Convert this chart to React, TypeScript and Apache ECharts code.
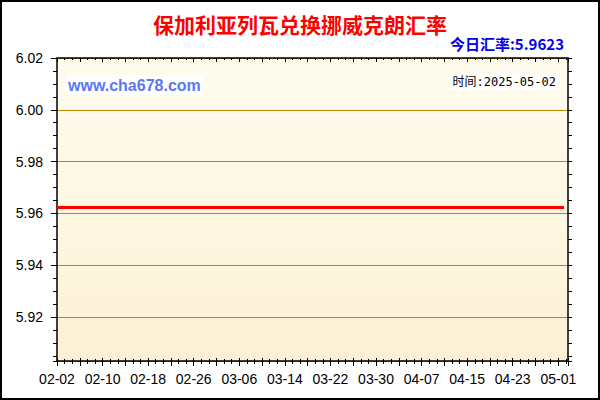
import { useRef, useEffect } from 'react'
import * as echarts from 'echarts'

// days counted from 2025-02-02
const X_LABELS = ['02-02', '02-10', '02-18', '02-26', '03-06', '03-14', '03-22', '03-30', '04-07', '04-15', '04-23', '05-01']
const RATE_DAYS = [0, 89]
const RATES = [5.9623, 5.9623]

const TITLE = '保加利亚列瓦兑换挪威克朗汇率'
const TODAY_RATE = '今日汇率:5.9623'
const DATE_TEXT = '时间:2025-05-02'
const SITE = 'www.cha678.com'

const Y_MIN = 5.903
const Y_MAX = 6.02
const X_MAX = 89.7

const CJK = '"Noto Sans CJK SC", sans-serif'
const LATIN = '"Liberation Sans", Arial, sans-serif'

function buildOption(): echarts.EChartsOption {
  const tickLine = { color: '#000', width: 1 }
  const noLabel = { show: false }
  const baseY = { type: 'value' as const, min: Y_MIN, max: Y_MAX, splitLine: { show: false } }
  const baseX = { type: 'value' as const, min: 0, max: X_MAX, interval: 4, splitLine: { show: false } }

  return {
    backgroundColor: '#fff',
    animation: false,
    grid: {
      left: 57,
      top: 58,
      right: 32,
      bottom: 39,
      show: true,
      borderWidth: 0,
      backgroundColor: new echarts.graphic.LinearGradient(0, 0, 0, 1, [
        { offset: 0, color: '#FEFCEF' },
        { offset: 1, color: '#FDF1D5' },
      ]),
    },
    xAxis: [
      {
        ...baseX,
        position: 'bottom',
        axisLine: { show: true, onZero: false, lineStyle: { color: '#000', width: 1.5 } },
        axisTick: { show: true, inside: false, length: 5, lineStyle: tickLine },
        minorTick: { show: true, splitNumber: 3, length: 3, lineStyle: tickLine },
        axisLabel: {
          show: true,
          margin: 11,
          fontSize: 14,
          fontFamily: LATIN,
          color: '#000',
          showMaxLabel: false,
          formatter: (v: number) => (v % 8 === 0 ? X_LABELS[v / 8] ?? '' : ''),
        },
      },
      {
        ...baseX,
        position: 'bottom',
        axisLine: { show: false, onZero: false },
        axisTick: { show: true, inside: true, length: 3, lineStyle: tickLine },
        minorTick: { show: true, splitNumber: 3, length: 2, lineStyle: tickLine },
        axisLabel: noLabel,
      },
      {
        ...baseX,
        position: 'top',
        axisLine: { show: true, onZero: false, lineStyle: { color: '#000', width: 1.5 } },
        axisTick: { show: true, inside: true, length: 4, lineStyle: tickLine },
        minorTick: { show: true, splitNumber: 3, length: 2, lineStyle: tickLine },
        axisLabel: noLabel,
      },
    ],
    yAxis: [
      {
        ...baseY,
        position: 'left',
        splitNumber: 5,
        axisLine: { show: true, onZero: false, lineStyle: { color: '#000', width: 1.5 } },
        axisTick: { show: true, length: 6, lineStyle: tickLine },
        splitLine: { show: true, lineStyle: { color: '#B8860B', width: 1 } },
        axisLabel: {
          margin: 14,
          fontSize: 14,
          fontFamily: LATIN,
          color: '#000',
          showMinLabel: false,
          formatter: (v: number) => (Math.abs(v * 50 - Math.round(v * 50)) < 1e-6 ? v.toFixed(2) : ''),
        },
      },
      {
        ...baseY,
        position: 'left',
        splitNumber: 24,
        axisLine: { show: false, onZero: false },
        axisTick: { show: true, length: 4, lineStyle: tickLine },
        axisLabel: noLabel,
      },
      {
        ...baseY,
        position: 'right',
        splitNumber: 24,
        axisLine: { show: true, onZero: false, lineStyle: { color: '#000', width: 1.5 } },
        axisTick: { show: true, length: 4, lineStyle: tickLine },
        axisLabel: noLabel,
      },
    ],
    series: [
      {
        type: 'line',
        xAxisIndex: 0,
        yAxisIndex: 0,
        data: RATE_DAYS.map((d, i) => [d, RATES[i]]),
        symbol: 'none',
        lineStyle: { color: '#ff0000', width: 3 },
        z: 5,
      },
    ],
    graphic: [
      {
        type: 'text',
        x: 300,
        y: 24,
        style: { text: TITLE, fill: '#ff0000', font: `bold 21px ${CJK}`, align: 'center', verticalAlign: 'middle' },
      },
      {
        type: 'text',
        x: 564,
        y: 43,
        style: { text: TODAY_RATE, fill: '#0000ee', font: `bold 15px ${CJK}`, align: 'right', verticalAlign: 'middle' },
      },
      {
        type: 'text',
        x: 66,
        y: 85,
        z: 10,
        style: {
          text: SITE,
          fill: '#5a78f0',
          font: `bold 16px ${LATIN}`,
          align: 'left',
          verticalAlign: 'middle',
          backgroundColor: '#fff',
          padding: [2, 2],
        },
      },
      {
        type: 'text',
        x: 558,
        y: 82,
        z: 10,
        style: {
          text: DATE_TEXT,
          fill: '#000',
          font: `12px "DejaVu Sans Mono", ${CJK}`,
          align: 'right',
          verticalAlign: 'middle',
          backgroundColor: '#fff',
          padding: [2, 2],
        },
      },
      {
        type: 'rect',
        z: 20,
        shape: { x: 1, y: 1, width: 598, height: 398 },
        style: { fill: 'none', stroke: '#000', lineWidth: 2 },
      },
    ],
  }
}

export default function App() {
  const ref = useRef<HTMLDivElement>(null)

  useEffect(() => {
    const el = ref.current
    if (!el) return
    const chart = echarts.init(el, null, { renderer: 'svg' })
    chart.setOption(buildOption())
    return () => chart.dispose()
  }, [])

  return <div ref={ref} style={{ position: 'absolute', left: 0, top: 0, width: 600, height: 400 }} />
}
